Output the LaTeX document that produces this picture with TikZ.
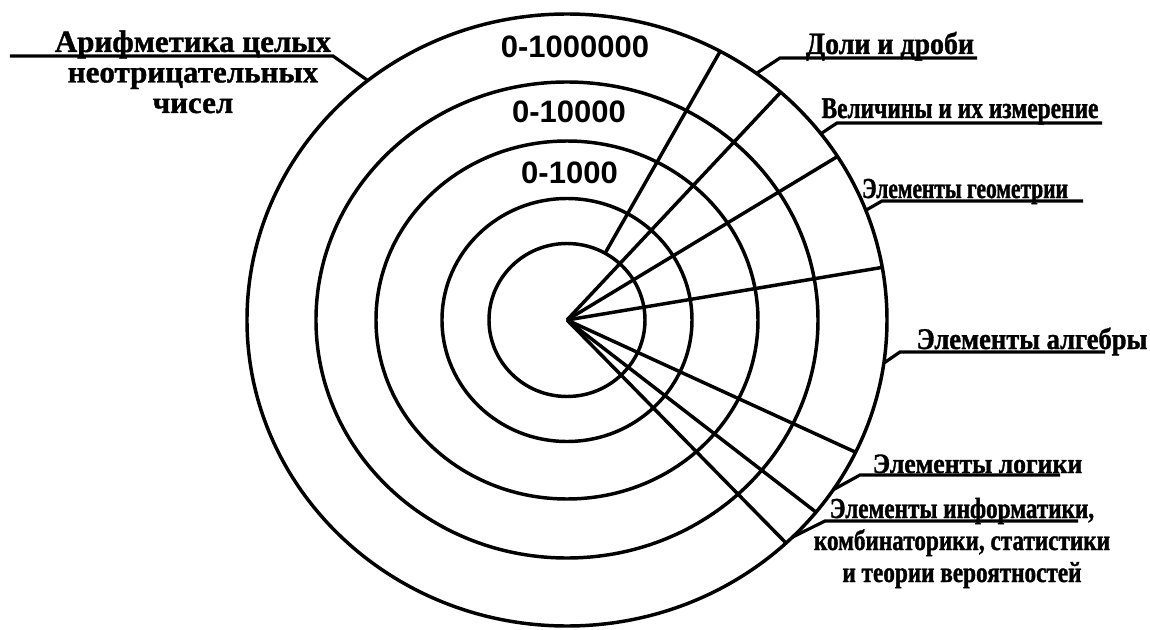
\documentclass[tikz,border=0pt]{standalone}
\usepackage{fontspec}
\setmainfont{Liberation Serif}[FakeBold=1.2]
\newfontfamily\numfont{Liberation Sans}
\newfontfamily\fntdoli{Liberation Serif}[FakeStretch=0.90, FakeBold=1.2]
\newfontfamily\fntvel{Liberation Serif}[FakeStretch=0.78, FakeBold=1.2]
\newfontfamily\fntgeom{Liberation Serif}[FakeStretch=0.74, FakeBold=1.2]
\newfontfamily\fntalg{Liberation Serif}[FakeStretch=0.885, FakeBold=1.2]
\newfontfamily\fntlog{Liberation Serif}[FakeStretch=0.92, FakeBold=1.2]
\newfontfamily\fntinf{Liberation Serif}[FakeStretch=0.80, FakeBold=1.2]
\usetikzlibrary{calc}

\tikzset{
  ring/.style={line width=2.6pt},
  lead/.style={line width=2.4pt},
  numlbl/.style={font=\numfont\bfseries\fontsize{23.25}{28}\selectfont, inner sep=0pt},
  toplbl/.style={inner sep=0pt, align=center, anchor=base},
}

\begin{document}
\begin{tikzpicture}[x=0.75pt, y=0.75pt]
  \useasboundingbox (-567,-309) rectangle (583,320);
  \coordinate (c) at (0,0);
  % rings
  \foreach \a/\b in {78/76.5, 125/121.5, 191/179, 251/238, 320/306}
    \draw[ring] (c) ellipse [x radius=\a, y radius=\b];
  % spokes
  \foreach \i/\ang in {1/61.4, 2/48.1, 3/32.3, 4/9.9, 5/-25.6, 6/-38.9, 7/-46.8}
    \coordinate (sp\i) at (\ang:320 and 306);
  \draw[ring] ($(c)!0.249!(sp1)$) -- (sp1);
  \foreach \i in {2,...,7}
    \draw[ring] (c) -- (sp\i);

  % ring labels
  \node[numlbl] (n6) at (8,273) {0-1000000};
  \node[numlbl] (n4) at (2,208.5) {0-10000};
  \node[numlbl] (n3) at (2.5,147) {0-1000};

  % labels (base = last line)
  \node[toplbl, font=\bfseries\fontsize{23.25}{22.9}\selectfont] (arif) at (-374,207)
    {Арифметика целых\\неотрицательных\\чисел};
  \node[toplbl, font=\fntdoli\bfseries\fontsize{23.25}{28}\selectfont] (doli) at (323,266) {Доли и дроби};
  \node[toplbl, font=\fntvel\bfseries\fontsize{22.5}{28}\selectfont] (velich) at (393,202) {Величины и их измерение};
  \node[toplbl, font=\fntgeom\bfseries\fontsize{21.75}{28}\selectfont] (geom) at (398,122) {Элементы геометрии};
  \node[toplbl, font=\fntalg\bfseries\fontsize{22.5}{28}\selectfont] (alg) at (465,-29) {Элементы алгебры};
  \node[toplbl, font=\fntlog\bfseries\fontsize{21}{28}\selectfont] (logic) at (410.5,-153) {Элементы логики};
  \node[toplbl, font=\fntinf\bfseries\fontsize{21.75}{24}\selectfont] (inf) at (395,-262)
    {Элементы информатики,\\комбинаторики, статистики\\и теории вероятностей};

  % leaders
  \foreach \nm/\ang/\kx/\ky/\ux in {arif/128.5/-234/264/-557, doli/53.7/213/262/410,
      velich/37.5/270/197/535, geom/21/315/119/516, alg/-8.1/333/-32/538,
      logic/-33.7/293/-155/493, inf/-45.2/258/-201/511} {
    \coordinate (s-\nm) at (\ang:320 and 306);
    \coordinate (k-\nm) at (\kx,\ky);
    \coordinate (u-\nm) at (\ux,\ky);
    \draw[lead] (s-\nm) -- (k-\nm) -- (u-\nm);
  }
\end{tikzpicture}
\end{document}
